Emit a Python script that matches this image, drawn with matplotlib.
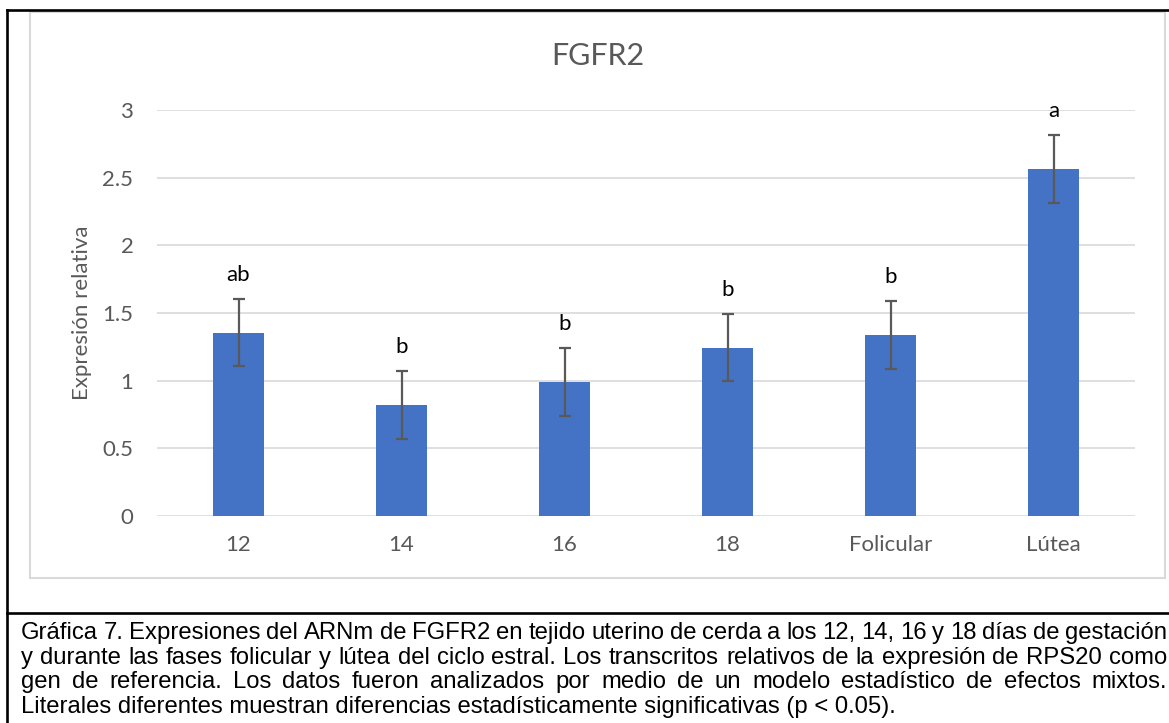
import matplotlib
matplotlib.use('Agg')
import matplotlib.pyplot as plt
from matplotlib.lines import Line2D
from matplotlib.patches import Rectangle

# data
categories = ['12', '14', '16', '18', 'Folicular', 'Lútea']
values = [1.355, 0.82, 0.99, 1.245, 1.335, 2.565]
errors = [0.25, 0.25, 0.25, 0.25, 0.25, 0.25]
letters = ['ab', 'b', 'b', 'b', 'b', 'a']
yticks = [0, 0.5, 1, 1.5, 2, 2.5, 3]
ytick_labels = ['0', '0.5', '1', '1.5', '2', '2.5', '3']

title = 'FGFR2'
ylabel = 'Expresión relativa'
caption = [
    'Gráfica 7. Expresiones del ARNm de FGFR2 en tejido uterino de cerda a los 12, 14, 16 y 18 días de gestación',
    'y durante las fases folicular y lútea del ciclo estral. Los transcritos relativos de la expresión de RPS20 como',
    'gen de referencia. Los datos fueron analizados por medio de un modelo estadístico de efectos mixtos.',
    'Literales diferentes muestran diferencias estadísticamente significativas (p < 0.05).',
]

W, H = 1169, 723
BAR = '#4472c4'
GREY = '#595959'
GRID = '#d9d9d9'
CHART_FONT = ['Lato', 'DejaVu Sans']
CAPTION_FONT = ['Liberation Sans', 'DejaVu Sans']


def fx(px):
    return px / W


def fy(py):
    return 1 - py / H


fig = plt.figure(figsize=(W / 100, H / 100), dpi=100)
fig.patch.set_facecolor('white')

# plot area in pixels: x 157..1135, y 110..516
ax = fig.add_axes([fx(157), fy(516), fx(1135 - 157), (516 - 110) / H])
x = list(range(len(categories)))
ax.bar(x, values, width=0.31, color=BAR, zorder=3)
ax.errorbar(x, values, yerr=errors, fmt='none', ecolor=GREY, elinewidth=1.6,
            capsize=4.3, capthick=1.6, zorder=4)
for xi, v, e, lab in zip(x, values, errors, letters):
    ax.annotate(lab, (xi, v + e), xytext=(0, 13), textcoords='offset points',
                ha='center', va='baseline', fontsize=16, color='black',
                family=CHART_FONT)

ax.set_xlim(-0.5, len(categories) - 0.5)
ax.set_ylim(0, 3)
ax.set_yticks(yticks)
ax.set_yticklabels(ytick_labels)
ax.set_xticks(x)
ax.set_xticklabels(categories)
ax.grid(axis='y', color=GRID, linewidth=1.2, zorder=0)
ax.set_axisbelow(True)
for s in ax.spines.values():
    s.set_visible(False)
ax.tick_params(axis='both', length=0, labelsize=16, labelcolor=GREY)
ax.tick_params(axis='y', pad=17)
ax.tick_params(axis='x', pad=14)
for t in ax.get_xticklabels() + ax.get_yticklabels():
    t.set_family(CHART_FONT)

fig.text(fx(597.5), fy(56), title, ha='center', va='center', fontsize=22,
         color=GREY, family=CHART_FONT)
fig.text(fx(82), fy(313), ylabel, ha='center', va='center', rotation=90,
         fontsize=16, color=GREY, family=CHART_FONT)

# grey chart frame
fig.add_artist(Rectangle((fx(30), fy(578)), fx(1165 - 30), (578 - 12) / H,
                         transform=fig.transFigure, fill=False,
                         edgecolor=GRID, linewidth=1.5))

# black table borders
for xs, ys in [([7, 7], [10, H]), ([7, W], [10, 10]), ([7, W], [613, 613])]:
    fig.add_artist(Line2D([fx(v) for v in xs], [fy(v) for v in ys],
                          transform=fig.transFigure, color='black', linewidth=1.9))

# justified caption; font size chosen so the first line about fills the width
renderer = fig.canvas.get_renderer()
left, right = 21, 1167
baselines = [639, 664, 688, 713]
probe = fig.text(0, 0, caption[0], fontsize=10, family=CAPTION_FONT)
cap_size = 10 * (right - left) / probe.get_window_extent(renderer).width * 1.02
probe.remove()

for i, (line, base) in enumerate(zip(caption, baselines)):
    words = line.split(' ')
    if i == len(caption) - 1:
        fig.text(fx(left), fy(base), line, ha='left', va='baseline',
                 fontsize=cap_size, family=CAPTION_FONT, color='black')
        continue
    texts = [fig.text(0, fy(base), w, ha='left', va='baseline', fontsize=cap_size,
                      family=CAPTION_FONT, color='black') for w in words]
    widths = [t.get_window_extent(renderer).width for t in texts]
    gap = (right - left - sum(widths)) / (len(words) - 1)
    pos = left
    for t, wd in zip(texts, widths):
        t.set_x(fx(pos))
        pos += wd + gap

fig.savefig('out.png', dpi=100, facecolor='white')
